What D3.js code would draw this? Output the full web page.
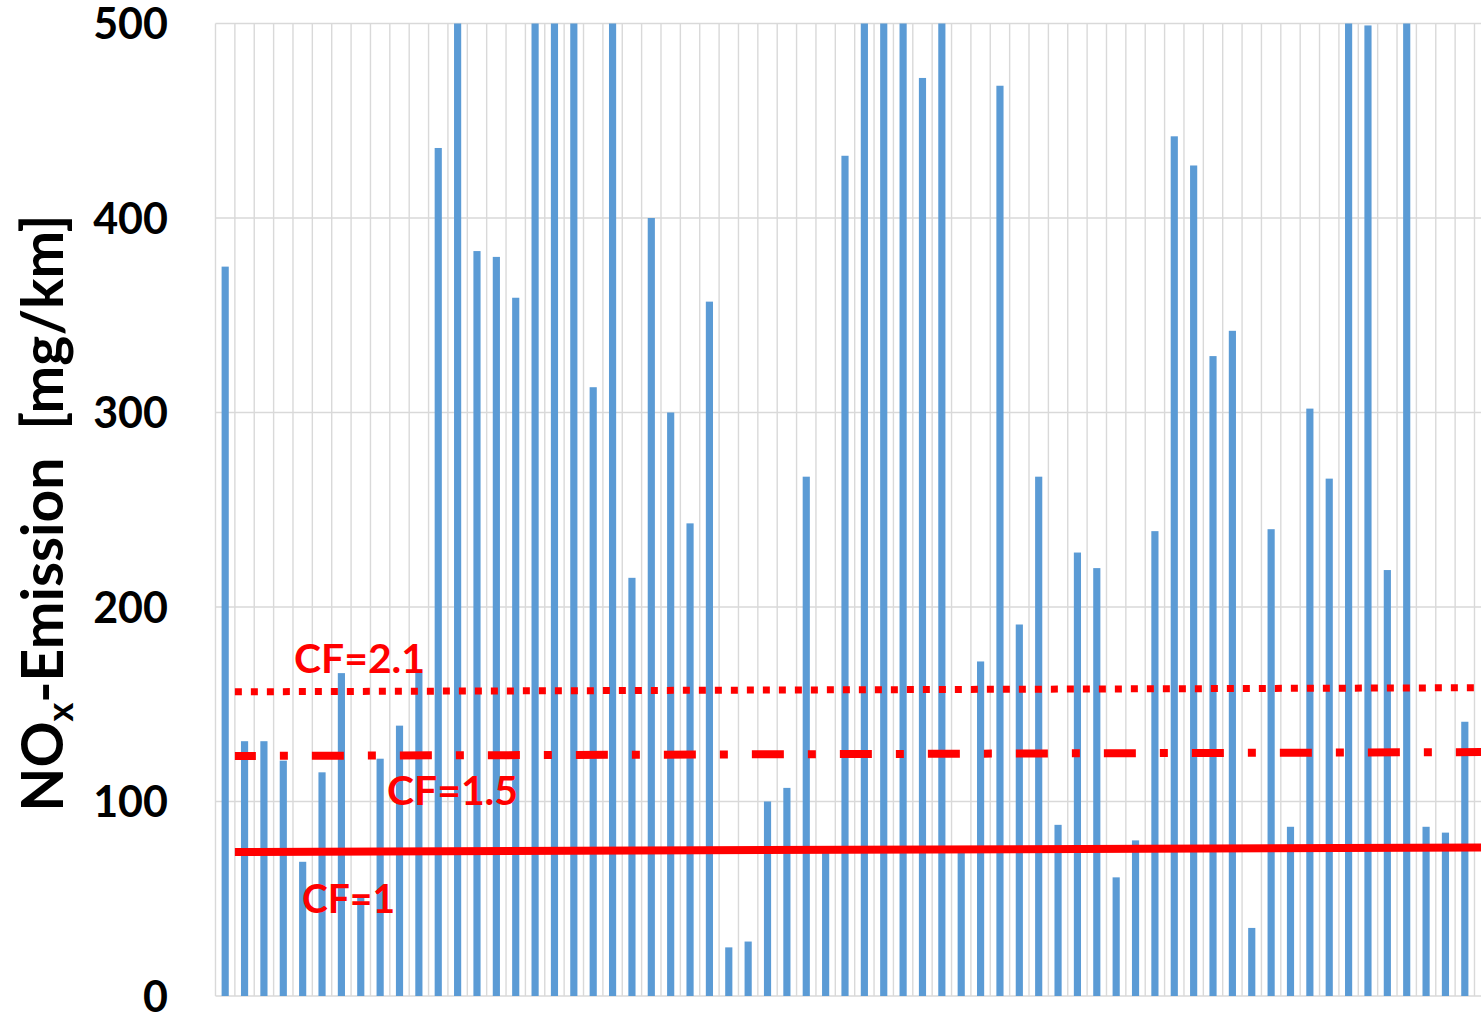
<!DOCTYPE html>
<html>
<head>
<meta charset="utf-8">
<script src="https://cdn.jsdelivr.net/npm/d3@7"></script>
<style>
  html, body { margin: 0; padding: 0; background: #fff; }
  svg { display: block; }
  text { font-family: Lato, Carlito, Calibri, "Open Sans", sans-serif; font-weight: 700; }
</style>
</head>
<body>
<svg id="chart" width="1481" height="1013"></svg>
<script>
// Vehicle index along the x axis (no tick labels are shown)
const vehicles = d3.range(1, 66);

// NOx emission per vehicle in mg/km (bars above 500 are cut off by the axis)
const noxValues = [
  375, 131, 131, 121, 69, 115, 166, 51, 122, 139,
  168, 436, 500, 383, 380, 359, 500, 500, 500, 313,
  500, 215, 400, 300, 243, 357, 25, 28, 100, 107,
  267, 74, 432, 500, 500, 500, 472, 500, 74, 172,
  468, 191, 267, 88, 228, 220, 61, 80, 239, 442,
  427, 329, 342, 35, 240, 87, 302, 266, 500, 499,
  219, 500, 87, 84, 141
];

// Y axis ticks
const yTicks = [0, 100, 200, 300, 400, 500];

// Conformity-factor limit lines: value at the left end and at the right end
const cfLabels = ["CF=1", "CF=1.5", "CF=2.1"];
const cfStart = [74.0, 123.4, 156.4];
const cfEnd = [76.4, 125.4, 158.5];

const W = 1481, H = 1013;
const svg = d3.select("#chart");

const x = d3.scaleBand().domain(vehicles).range([215.5, 1474.5]).paddingInner(0).paddingOuter(0);
const y = d3.scaleLinear().domain([0, 500]).range([996, 23.5]);
const grid = "#d9d9d9";

// horizontal gridlines (run past the right edge)
svg.append("g").selectAll("line").data(yTicks).join("line")
  .attr("x1", 215.5).attr("x2", W)
  .attr("y1", d => y(d)).attr("y2", d => y(d))
  .attr("stroke", grid).attr("stroke-width", 1.4);

// vertical gridlines at category boundaries
const bounds = vehicles.map(v => x(v)).concat([x(vehicles[vehicles.length - 1]) + x.bandwidth()]);
svg.append("g").selectAll("line").data(bounds).join("line")
  .attr("x1", d => d).attr("x2", d => d)
  .attr("y1", y(500)).attr("y2", y(0))
  .attr("stroke", grid).attr("stroke-width", 1.4);

// bars
const barW = x.bandwidth() * 0.37;
svg.append("g").selectAll("rect").data(vehicles).join("rect")
  .attr("x", (d) => x(d) + (x.bandwidth() - barW) / 2)
  .attr("width", barW)
  .attr("y", (d, i) => y(Math.min(noxValues[i], 500)))
  .attr("height", (d, i) => y(0) - y(Math.min(noxValues[i], 500)))
  .attr("fill", "#5b9bd5");

// y tick labels
svg.append("g").selectAll("text").data(yTicks).join("text")
  .attr("x", 168).attr("y", d => y(d) + 15.5)
  .attr("text-anchor", "end")
  .attr("font-size", 43)
  .attr("fill", "#000")
  .text(d => d);

// y axis title
const title = svg.append("text")
  .attr("transform", "translate(63,513) rotate(-90)")
  .attr("text-anchor", "middle")
  .attr("font-size", 57)
  .attr("fill", "#000")
  .attr("xml:space", "preserve");
title.append("tspan").text("NO");
title.append("tspan").attr("font-size", 36).attr("dy", 10).text("x");
title.append("tspan").attr("dy", -10).text("-Emission  [mg/km]");

// CF limit lines
const lx0 = x(vehicles[1]), lx1 = W;
const styles = [
  { width: 8, dash: null, offset: 0 },
  { width: 8, dash: "32 24 8 24", offset: 11 },
  { width: 7, dash: "7 9", offset: 0 }
];
svg.append("g").selectAll("line").data(cfLabels).join("line")
  .attr("x1", lx0).attr("x2", lx1)
  .attr("y1", (d, i) => y(cfStart[i])).attr("y2", (d, i) => y(cfEnd[i]))
  .attr("stroke", "#ff0000")
  .attr("stroke-width", (d, i) => styles[i].width)
  .attr("stroke-dasharray", (d, i) => styles[i].dash)
  .attr("stroke-dashoffset", (d, i) => styles[i].offset);

// CF labels
const labelPos = [
  { x: 302, y: 913, w: 93 },
  { x: 387, y: 805, w: 131 },
  { x: 294, y: 673, w: 131 }
];
svg.append("g").selectAll("text").data(cfLabels).join("text")
  .attr("x", (d, i) => labelPos[i].x).attr("y", (d, i) => labelPos[i].y)
  .attr("font-size", 41)
  .attr("textLength", (d, i) => labelPos[i].w)
  .attr("lengthAdjust", "spacingAndGlyphs")
  .attr("fill", "#ff0000")
  .text(d => d);
</script>
</body>
</html>
